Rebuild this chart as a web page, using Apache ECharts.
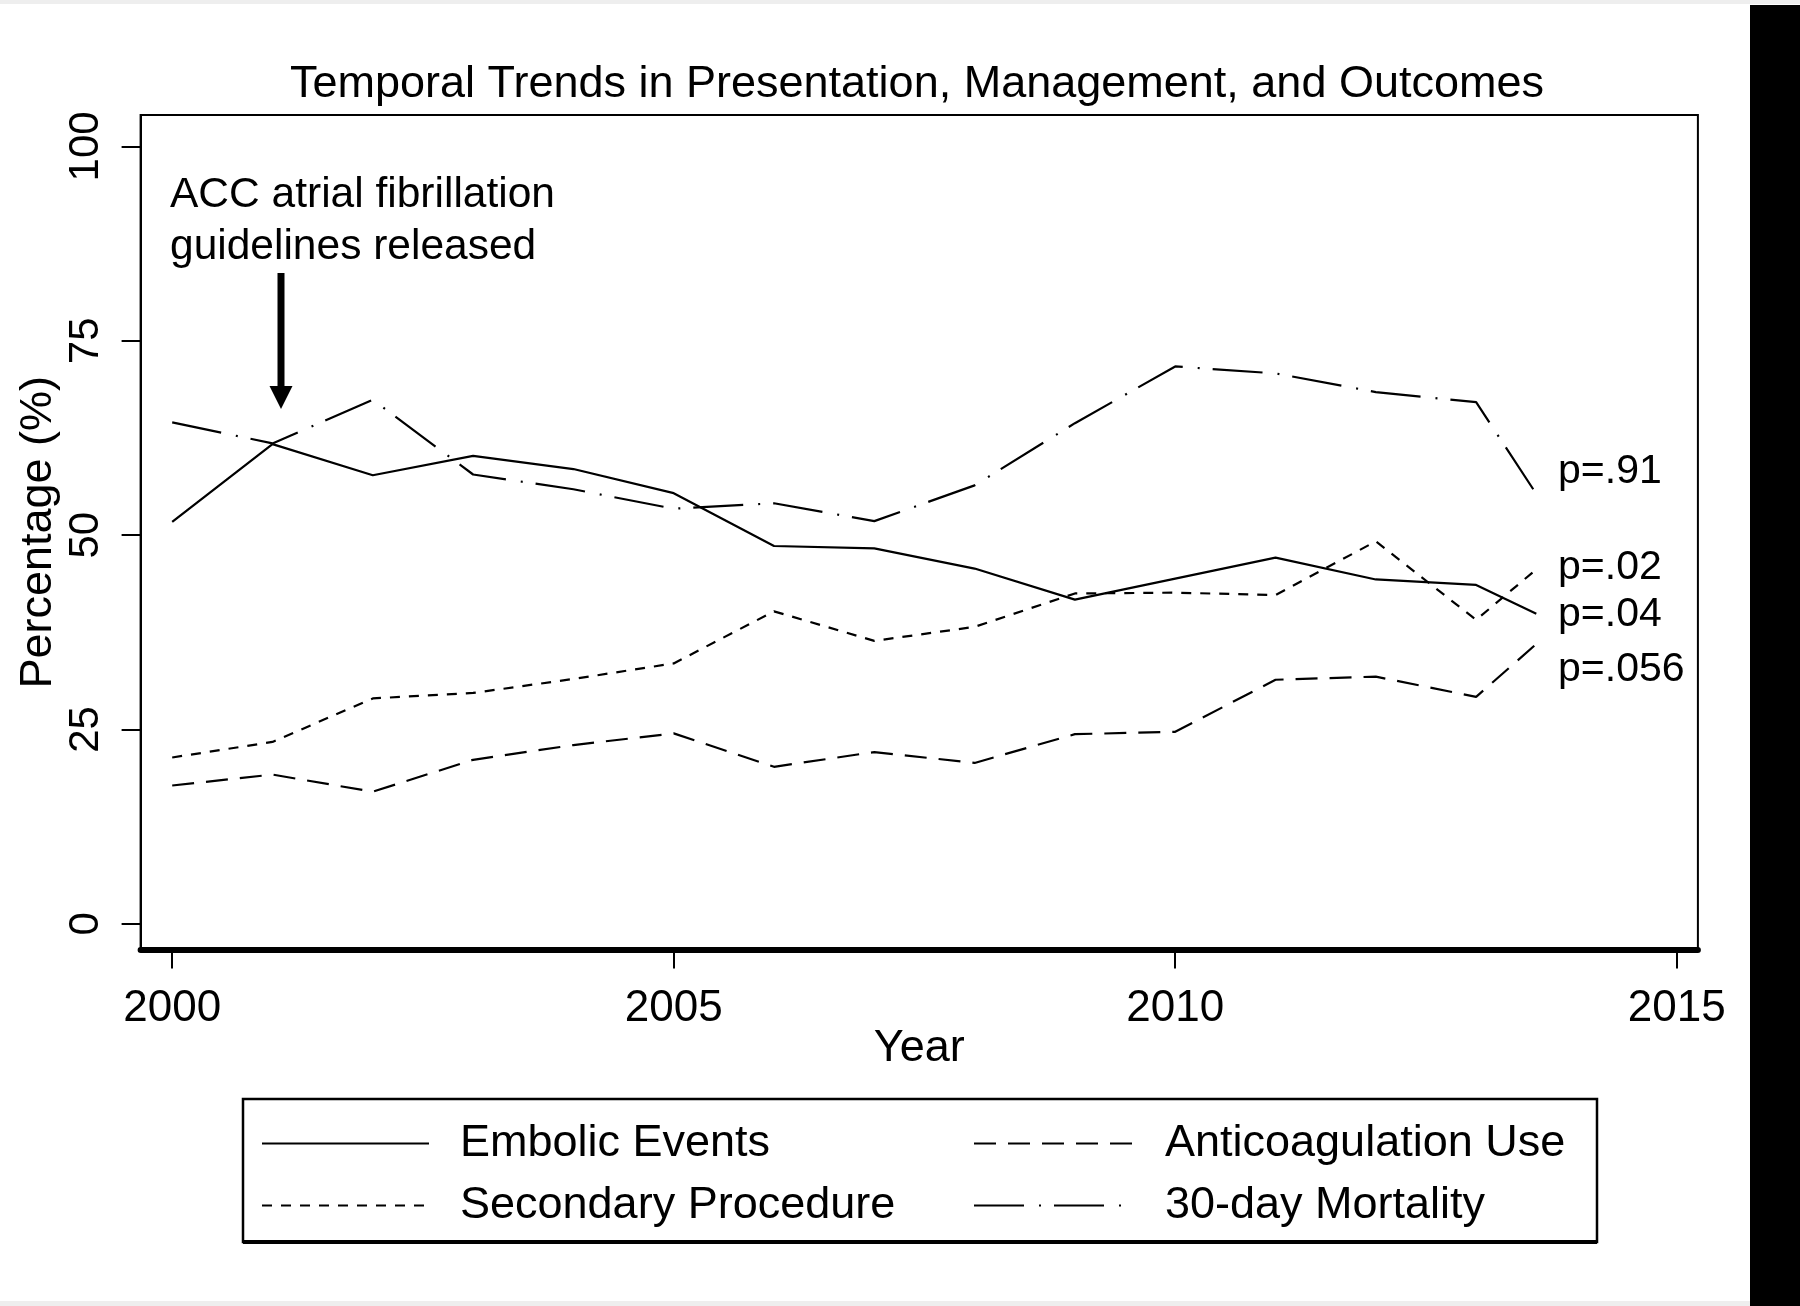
<!DOCTYPE html>
<html><head><meta charset="utf-8">
<script src="https://cdn.jsdelivr.net/npm/echarts@6/dist/echarts.min.js"></script>
<style>html,body{margin:0;padding:0;background:#fff}#c{width:1800px;height:1306px}</style>
</head><body><div id="c"></div>
<script>
// ---- data ----
const years = [2000, 2001, 2002, 2003, 2004, 2005, 2006, 2007, 2008, 2009, 2010, 2011, 2012, 2013, 2013.6];
const embolic   = [51.7, 61.7, 57.7, 60.2, 58.5, 55.4, 48.6, 48.3, 45.7, 41.7, 44.4, 47.1, 44.3, 43.6, 39.9];
const anticoag  = [17.8, 19.2, 17.0, 21.1, 23.0, 24.5, 20.2, 22.1, 20.7, 24.4, 24.7, 31.4, 31.8, 29.2, 36.0];
const secondary = [21.4, 23.4, 29.0, 29.7, 31.5, 33.5, 40.2, 36.4, 38.2, 42.5, 42.6, 42.3, 49.2, 39.1, 45.6];
const mortality = [64.5, 61.8, 67.4, 57.8, 55.9, 53.4, 54.1, 51.8, 56.4, 64.4, 71.7, 70.8, 68.4, 67.1, 55.3];
const xTicks = [2000, 2005, 2010, 2015];
const yTicks = [0, 25, 50, 75, 100];
const seriesNames = ['Embolic Events', 'Anticoagulation Use', 'Secondary Procedure', '30-day Mortality'];
const pLabels = ['p=.91', 'p=.02', 'p=.04', 'p=.056'];
const titleText = 'Temporal Trends in Presentation, Management, and Outcomes';
const noteLines = ['ACC atrial fibrillation', 'guidelines released'];

const FONT = "'Liberation Sans', Arial, sans-serif";
const pairs = arr => years.map((y, i) => [y, arr[i]]);

const chart = echarts.init(document.getElementById('c'), null, {renderer: 'canvas'});

function lineSeries(name, arr, dash) {
  return {
    name: name, type: 'line', data: pairs(arr), symbol: 'none', showSymbol: false,
    animation: false, silent: true,
    itemStyle: {color: '#000'},
    lineStyle: {color: '#000', width: 2.2, type: dash, cap: 'butt'}
  };
}

const legendCommon = {
  orient: 'vertical', top: 1121, itemHeight: 20, itemGap: 17, padding: 0, selectedMode: false,
  itemStyle: {color: 'transparent', borderWidth: 0, opacity: 0},
  textStyle: {fontFamily: FONT, fontSize: 45, color: '#000', lineHeight: 45, padding: [0, 0, 0, 26]}
};

const option = {
  backgroundColor: '#fff',
  animation: false,
  title: {
    text: titleText, left: 290, top: 62, padding: 0,
    textStyle: {fontFamily: FONT, fontSize: 45, fontWeight: 'normal', color: '#000'}
  },
  grid: {
    left: 140.6, top: 115, width: 1557.3, height: 834.6,
    show: true, borderColor: '#000', borderWidth: 2, backgroundColor: '#fff'
  },
  xAxis: {
    type: 'value', min: 1999.685, max: 2015.211,
    name: 'Year', nameLocation: 'middle', nameGap: 76, nameMoveOverlap: false,
    nameTextStyle: {fontFamily: FONT, fontSize: 45, color: '#000'},
    axisLine: {show: true, onZero: false, lineStyle: {color: '#000', width: 6}},
    axisTick: {show: true, inside: false, length: 19, lineStyle: {color: '#000', width: 2}, customValues: xTicks},
    axisLabel: {show: true, margin: 37, customValues: xTicks, fontFamily: FONT, fontSize: 44, color: '#000',
      formatter: v => String(Math.round(v))},
    splitLine: {show: false}
  },
  yAxis: {
    type: 'value', min: -3.31, max: 104.04,
    name: 'Percentage (%)', nameLocation: 'middle', nameGap: 80, nameRotate: 90, nameMoveOverlap: false,
    nameTextStyle: {fontFamily: FONT, fontSize: 45, color: '#000'},
    axisLine: {show: true, onZero: false, lineStyle: {color: '#000', width: 2}},
    axisTick: {show: true, inside: false, length: 19, lineStyle: {color: '#000', width: 2}, customValues: yTicks},
    axisLabel: {show: true, margin: 33, rotate: 90, customValues: yTicks, fontFamily: FONT, fontSize: 42, color: '#000',
      formatter: v => String(Math.round(v))},
    splitLine: {show: false}
  },
  legend: [
    Object.assign({}, legendCommon, {data: [seriesNames[0], seriesNames[2]], left: 261, itemWidth: 167}),
    Object.assign({}, legendCommon, {data: [seriesNames[1], seriesNames[3]], left: 973, itemWidth: 160})
  ],
  series: [
    lineSeries(seriesNames[0], embolic, 'solid'),
    lineSeries(seriesNames[1], anticoag, [22, 12]),
    lineSeries(seriesNames[2], secondary, [10, 9]),
    lineSeries(seriesNames[3], mortality, [50, 15, 2, 13])
  ],
  graphic: [
    // right black bar and faint edge strips
    {type: 'rect', shape: {x: 0, y: 0, width: 1800, height: 4}, style: {fill: '#eeeeee'}, silent: true},
    {type: 'rect', shape: {x: 0, y: 1301, width: 1800, height: 5}, style: {fill: '#eeeeee'}, silent: true},
    {type: 'rect', shape: {x: 1750, y: 5, width: 50, height: 1301}, style: {fill: '#000'}, silent: true, z: 10},
    // legend frame
    {type: 'rect', shape: {x: 243, y: 1099, width: 1354, height: 143}, style: {fill: null, stroke: '#000', lineWidth: 2.5}, silent: true},
    {type: 'line', shape: {x1: 243, y1: 1242, x2: 1597, y2: 1242}, style: {stroke: '#000', lineWidth: 4}, silent: true},
    // annotation
    {type: 'text', x: 170, y: 195.5, style: {text: noteLines[0], font: '42.5px ' + FONT, fill: '#000', align: 'left', verticalAlign: 'middle'}, silent: true},
    {type: 'text', x: 170, y: 247.5, style: {text: noteLines[1], font: '42.5px ' + FONT, fill: '#000', align: 'left', verticalAlign: 'middle'}, silent: true},
    {type: 'rect', shape: {x: 277.5, y: 273, width: 7, height: 118}, style: {fill: '#000'}, silent: true},
    {type: 'polygon', shape: {points: [[269.5, 386], [292.5, 386], [281, 409]]}, style: {fill: '#000'}, silent: true},
    // p-values
    {type: 'text', x: 1558, y: 472, style: {text: pLabels[0], font: '41px ' + FONT, fill: '#000', verticalAlign: 'middle'}, silent: true},
    {type: 'text', x: 1558, y: 568, style: {text: pLabels[1], font: '41px ' + FONT, fill: '#000', verticalAlign: 'middle'}, silent: true},
    {type: 'text', x: 1558, y: 615, style: {text: pLabels[2], font: '41px ' + FONT, fill: '#000', verticalAlign: 'middle'}, silent: true},
    {type: 'text', x: 1558, y: 670, style: {text: pLabels[3], font: '41px ' + FONT, fill: '#000', verticalAlign: 'middle'}, silent: true}
  ]
};
chart.setOption(option);
</script></body></html>
